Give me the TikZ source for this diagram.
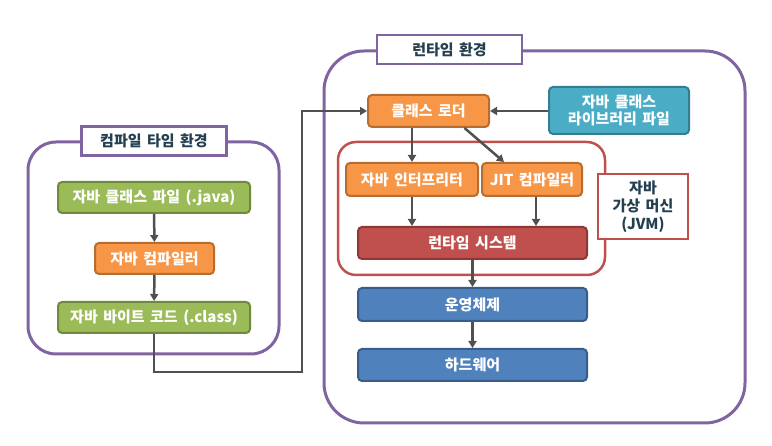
\documentclass[tikz,border=0pt]{standalone}
\usepackage{fontspec}
\setmainfont{Noto Sans CJK KR}[WordSpace=1.6]
\usetikzlibrary{arrows.meta}
\definecolor{envpurple}{HTML}{8064A2}
\definecolor{grfill}{HTML}{9BBB59}
\definecolor{grline}{HTML}{71893F}
\definecolor{orfill}{HTML}{F79646}
\definecolor{orline}{HTML}{B66D31}
\definecolor{blfill}{HTML}{4F81BD}
\definecolor{blline}{HTML}{385D8A}
\definecolor{tlfill}{HTML}{4BACC6}
\definecolor{tlline}{HTML}{357D91}
\definecolor{rdfill}{HTML}{C0504D}
\definecolor{rdline}{HTML}{8C3836}
\definecolor{lbltext}{HTML}{243F4F}
\definecolor{arrgray}{HTML}{505050}
\begin{document}
\begin{tikzpicture}
		[x=1pt,y=-1pt,
		mybox/.style={rectangle,rounded corners=4pt,line width=2pt,text=white,font=\fontsize{15}{17}\selectfont\bfseries,inner sep=0pt,align=center},
		green/.style={mybox,fill=grfill,draw=grline},
		orange/.style={mybox,fill=orfill,draw=orline},
		blue/.style={mybox,fill=blfill,draw=blline},
		teal/.style={mybox,fill=tlfill,draw=tlline},
		redbox/.style={mybox,fill=rdfill,draw=rdline},
		envlabel/.style={rectangle,fill=white,draw=envpurple,line width=2.5pt,text=lbltext,font=\fontsize{15}{17}\selectfont\bfseries,inner sep=0pt,minimum width=145pt,minimum height=29pt},
		arr/.style={draw=arrgray,line width=2.5pt,-{Triangle[length=7pt,width=8pt]}}]
		\useasboundingbox (0,0) rectangle (772,446);
		\draw[envpurple,line width=3pt,rounded corners=28pt] (28,142) rectangle (279,354);
		\draw[envpurple,line width=3pt,rounded corners=40pt] (324,51) rectangle (745,423);
		\draw[rdfill,line width=2.5pt,rounded corners=18pt] (338,142) rectangle (605,275);
		\node[envlabel,name=compenv] at (154,141) {컴파일 타임 환경};
		\node[envlabel,name=runenv] at (449.5,49.5) {런타임 환경};
		\node[green,name=src,minimum width=192pt,minimum height=31pt] at (154,197.5) {자바 클래스 파일 (.java)};
		\node[orange,name=javac,minimum width=119pt,minimum height=31pt] at (154.5,258.5) {자바 컴파일러};
		\node[green,name=bytecode,minimum width=192pt,minimum height=31pt] at (154,317.5) {자바 바이트 코드 (.class)};
		\node[orange,name=loader,minimum width=121pt,minimum height=32pt] at (428.5,111) {클래스 로더};
		\node[teal,name=lib,minimum width=140pt,minimum height=47pt,font=\fontsize{15}{17}\selectfont\bfseries] at (619,110.5) {자바 클래스\\라이브러리 파일};
		\node[orange,name=interp,minimum width=132pt,minimum height=33pt] at (412,179.5) {자바 인터프리터};
		\node[orange,name=jit,minimum width=100pt,minimum height=33pt] at (532,179.5) {JIT 컴파일러};
		\node[rectangle,name=jvmlabel,fill=white,draw=rdfill,line width=2.5pt,text=lbltext,font=\fontsize{15}{18}\selectfont\bfseries,align=center,minimum width=90pt,minimum height=65pt,inner sep=0pt] at (643,206.5) {자바\\가상 머신\\(JVM)};
		\node[redbox,name=rts,minimum width=229pt,minimum height=32pt] at (472.5,243) {런타임 시스템};
		\node[blue,name=os,minimum width=229pt,minimum height=33pt] at (472.5,304.5) {운영체제};
		\node[blue,name=hw,minimum width=229pt,minimum height=32pt] at (472.5,365) {하드웨어};
		\coordinate (turn) at (302,372);
		\draw[arr] (src) -- (javac);
		\draw[arr] (javac) -- (bytecode);
		\draw[arr] (bytecode.south) |- (turn) |- (loader.west);
		\draw[arr] (lib.west |- loader.east) -- (loader.east);
		\draw[arr] (interp.north |- loader.south) -- (interp.north);
		\draw[arr] ([xshift=36pt]loader.south) -- ([xshift=-28pt]jit.north);
		\draw[arr] (interp.south) -- (interp.south |- rts.north);
		\draw[arr] ([xshift=4pt]jit.south) -- ([xshift=4pt]jit.south |- rts.north);
		\draw[arr] (rts) -- (os);
		\draw[arr] (os) -- (hw);
	\end{tikzpicture}
\end{document}
